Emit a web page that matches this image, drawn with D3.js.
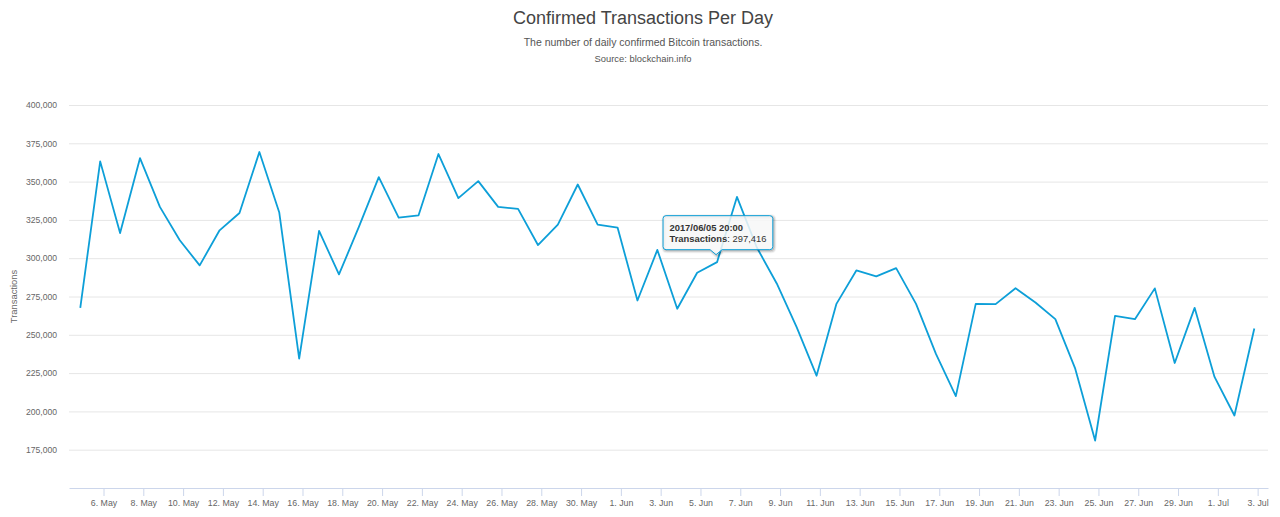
<!DOCTYPE html>
<html>
<head>
<meta charset="utf-8">
<script src="https://cdn.jsdelivr.net/npm/d3@7"></script>
<style>
  html, body { margin: 0; padding: 0; background: #ffffff; }
  svg { display: block; font-family: "Liberation Sans", Arial, Helvetica, sans-serif; }
</style>
</head>
<body>
<svg id="chart" width="1280" height="517"></svg>
<script>
// ---- data ----
const titleText = "Confirmed Transactions Per Day";
const subtitleLines = ["The number of daily confirmed Bitcoin transactions.", "Source: blockchain.info"];
const yAxisTitle = "Transactions";
const seriesName = "Transactions";
const firstPoint = "2017-05-04T20:00:00Z"; // one point per day
const transactions = [
  267600, 363200, 316400, 365300, 333500, 311700, 295300, 318200, 329500, 369300,
  329800, 234400, 317800, 289400, 320400, 352900, 326500, 328000, 368000, 339200,
  350300, 333500, 332200, 308600, 321900, 348100, 321900, 320000, 272400, 305400,
  267000, 290500, 297416, 340000, 307000, 283500, 255000, 223300, 270200, 292000,
  288100, 293500, 270200, 237500, 210000, 270200, 270000, 280400, 271100, 260200,
  227900, 181000, 262400, 260200, 280300, 231600, 267600, 222500, 197300, 254100
];
const yTicks = [175000, 200000, 225000, 250000, 275000, 300000, 325000, 350000, 375000, 400000];
const xTickDates = [
  "2017-05-06", "2017-05-08", "2017-05-10", "2017-05-12", "2017-05-14", "2017-05-16",
  "2017-05-18", "2017-05-20", "2017-05-22", "2017-05-24", "2017-05-26", "2017-05-28",
  "2017-05-30", "2017-06-01", "2017-06-03", "2017-06-05", "2017-06-07", "2017-06-09",
  "2017-06-11", "2017-06-13", "2017-06-15", "2017-06-17", "2017-06-19", "2017-06-21",
  "2017-06-23", "2017-06-25", "2017-06-27", "2017-06-29", "2017-07-01", "2017-07-03"
];
const xDomain = ["2017-05-04T06:23:00Z", "2017-07-03T12:30:00Z"];
const yDomain = [150000, 400000];
const hoverIndex = 32;

// ---- layout ----
const plot = { left: 69, right: 1268, top: 105, bottom: 488 };
const lineColor = "#0d9fd8";

const start = new Date(firstPoint);
const data = transactions.map((v, i) => ({ date: d3.utcDay.offset(start, i), value: v }));

const svg = d3.select("#chart");

const x = d3.scaleUtc().domain(xDomain.map(d => new Date(d))).range([plot.left, plot.right]);
const y = d3.scaleLinear().domain(yDomain).range([plot.bottom, plot.top]);

// title
svg.append("text").attr("x", 643).attr("y", 23.5).attr("text-anchor", "middle")
  .attr("font-size", 18).attr("fill", "#444444").text(titleText);
const subSizes = [10.5, 9.4];
subtitleLines.forEach((t, i) => {
  svg.append("text").attr("x", 643).attr("y", 45.5 + i * 16.6).attr("text-anchor", "middle")
    .attr("font-size", subSizes[i]).attr("fill", "#555555").text(t);
});

// y grid + labels
const yAxis = d3.axisLeft(y).tickValues(yTicks).tickSize(-(plot.right - plot.left))
  .tickPadding(12).tickFormat(d3.format(","));
const gy = svg.append("g").attr("transform", `translate(${plot.left},0)`).call(yAxis);
gy.select(".domain").remove();
gy.selectAll(".tick line").attr("stroke", "#e6e6e6").attr("stroke-width", 1);
gy.selectAll(".tick text").attr("fill", "#666666").attr("font-size", 8.6)
  .attr("font-family", "Liberation Sans, Arial, sans-serif");

// y title
svg.append("text").attr("transform", `translate(17,${(plot.top + plot.bottom) / 2}) rotate(-90)`)
  .attr("text-anchor", "middle").attr("font-size", 9.4).attr("fill", "#666666").text(yAxisTitle);

// x axis
const fmt = d3.utcFormat("%-d. %b");
const xAxis = d3.axisBottom(x).tickValues(xTickDates.map(d => new Date(d + "T00:00:00Z")))
  .tickSize(8).tickSizeOuter(0).tickPadding(4).tickFormat(fmt);
const gx = svg.append("g").attr("transform", `translate(0,${plot.bottom})`).call(xAxis);
gx.select(".domain").attr("stroke", "#ccd6eb");
gx.selectAll(".tick line").attr("stroke", "#ccd6eb");
gx.selectAll(".tick text").attr("fill", "#666666").attr("font-size", 8.8)
  .attr("font-family", "Liberation Sans, Arial, sans-serif");

// line
const line = d3.line().x(d => x(d.date)).y(d => y(d.value));
svg.append("path").datum(data).attr("d", line).attr("fill", "none")
  .attr("stroke", lineColor).attr("stroke-width", 1.8).attr("stroke-linejoin", "round");

// tooltip
const hp = data[hoverIndex];
const px = x(hp.date), py = y(hp.value);
const tipFmt = d3.utcFormat("%Y/%m/%d %H:%M");
const tip = svg.append("g");
const tipText = tip.append("text").attr("font-size", 9.4).attr("fill", "#333333");
tipText.append("tspan").attr("x", 0).attr("y", 0).attr("font-weight", "bold").text(tipFmt(hp.date));
const l2 = tipText.append("tspan").attr("x", 0).attr("y", 11);
l2.append("tspan").attr("font-weight", "bold").text(seriesName);
l2.append("tspan").text(": " + d3.format(",")(hp.value));
const bb = tipText.node().getBBox();
const padX = 6.4, w = bb.width + padX * 2, h = 34;
const bx = px - 54, by = py - 46.5;
const tipX = px - 1, tipY = by + h + 5;
const r = 3;
const callout = `M${bx + r},${by} H${bx + w - r} Q${bx + w},${by} ${bx + w},${by + r} V${by + h - r}
  Q${bx + w},${by + h} ${bx + w - r},${by + h} H${tipX + 6} L${tipX},${tipY} L${tipX - 6},${by + h}
  H${bx + r} Q${bx},${by + h} ${bx},${by + h - r} V${by + r} Q${bx},${by} ${bx + r},${by} Z`;
[5, 3, 1].forEach((sw, i) => {
  tip.insert("path", "text").attr("d", callout).attr("fill", "none")
    .attr("stroke", "#000").attr("stroke-opacity", 0.05 * (i + 1)).attr("stroke-width", sw)
    .attr("transform", "translate(1,1)");
});
tip.insert("path", "text").attr("d", callout).attr("fill", "rgba(247,247,247,0.85)")
  .attr("stroke", lineColor).attr("stroke-width", 1);
tipText.attr("transform", `translate(${bx + padX},${by + 15.5})`);
</script>
</body>
</html>
